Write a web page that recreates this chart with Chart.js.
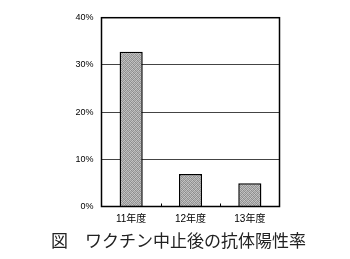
<!DOCTYPE html>
<html>
<head>
<meta charset="utf-8">
<script src="https://cdn.jsdelivr.net/npm/chart.js@4/dist/chart.umd.min.js"></script>
<style>
html,body{margin:0;padding:0;background:#fff;}
#wrap{width:350px;height:259px;position:relative;}
</style>
</head>
<body>
<div id="wrap"><canvas id="c" width="350" height="259"></canvas></div>
<script>
const categories = ['11年度', '12年度', '13年度'];
const positiveRate = [32.8, 6.9, 4.9];
const yTicks = [0, 10, 20, 30, 40];
const chartTitle = '図　ワクチン中止後の抗体陽性率';

function makePattern() {
  const p = document.createElement('canvas');
  p.width = 4; p.height = 4;
  const g = p.getContext('2d');
  const shades = [
    ['#c8c8c8', '#8a8a8a', '#b4b4b4', '#9a9a9a'],
    ['#9c9c9c', '#bcbcbc', '#8e8e8e', '#c4c4c4'],
    ['#b8b8b8', '#949494', '#c6c6c6', '#8c8c8c'],
    ['#909090', '#c0c0c0', '#a0a0a0', '#b6b6b6']
  ];
  for (let y = 0; y < 4; y++) for (let x = 0; x < 4; x++) {
    g.fillStyle = shades[y][x]; g.fillRect(x, y, 1, 1);
  }
  return document.getElementById('c').getContext('2d').createPattern(p, 'repeat');
}

const framePlugin = {
  id: 'frame',
  afterDatasetsDraw(chart) {
    const a = chart.chartArea, ctx = chart.ctx, xs = chart.scales.x;
    ctx.save();
    ctx.strokeStyle = '#000';
    ctx.lineWidth = 1.5;
    ctx.strokeRect(a.left, a.top, a.right - a.left, a.bottom - a.top);
    ctx.lineWidth = 1;
    for (let i = 0; i < categories.length - 1; i++) {
      const x = Math.round((xs.getPixelForValue(i) + xs.getPixelForValue(i + 1)) / 2) + 0.5;
      ctx.beginPath(); ctx.moveTo(x, a.bottom - 3); ctx.lineTo(x, a.bottom); ctx.stroke();
    }
    ctx.restore();
  },
  afterDraw(chart) {
    const ctx = chart.ctx;
    ctx.save();
    ctx.fillStyle = '#222';
    ctx.font = '17px "Noto Sans CJK JP"';
    ctx.textAlign = 'center';
    ctx.textBaseline = 'middle';
    ctx.fillText(chartTitle, 178.5, 241);
    ctx.restore();
  }
};

new Chart(document.getElementById('c'), {
  type: 'bar',
  data: {
    labels: categories,
    datasets: [{
      data: positiveRate,
      backgroundColor: makePattern(),
      borderColor: '#000',
      borderWidth: 1.5,
      categoryPercentage: 1,
      barPercentage: 0.39
    }]
  },
  options: {
    responsive: false,
    animation: false,
    devicePixelRatio: 1,
    layout: { padding: { left: 0, right: 70.5, top: 17.7, bottom: 0 } },
    plugins: { legend: { display: false }, tooltip: { enabled: false }, title: { display: false } },
    scales: {
      x: {
        grid: { display: false, drawTicks: false },
        border: { display: false },
        ticks: { color: '#000', padding: 7, font: { family: 'Liberation Sans, "Noto Sans CJK JP"', size: 10 } },
        afterFit(s) { s.height = 52.5; }
      },
      y: {
        min: 0, max: 40,
        afterBuildTicks(s) { s.ticks = yTicks.map(v => ({ value: v })); },
        grid: { color: '#444', lineWidth: 1, drawTicks: false },
        border: { display: false },
        ticks: { color: '#000', padding: 8, font: { family: 'Liberation Sans', size: 9 }, callback: v => v + '%' },
        afterFit(s) { s.width = 101.5; }
      }
    }
  },
  plugins: [framePlugin]
});
</script>
</body>
</html>
